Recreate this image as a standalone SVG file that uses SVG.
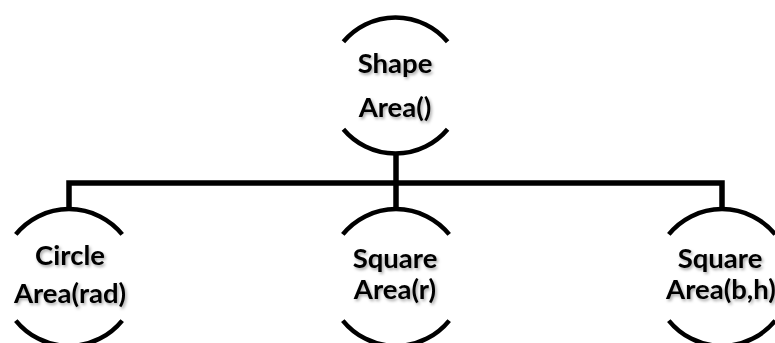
<svg xmlns="http://www.w3.org/2000/svg" width="775" height="343" viewBox="0 0 775 343">
<defs>
<filter id="sh" x="-20%" y="-30%" width="140%" height="170%">
<feDropShadow dx="1.5" dy="2" stdDeviation="1.5" flood-color="#000" flood-opacity="0.35"/>
</filter>
</defs>
<style>
.arc{fill:none;stroke:#000;stroke-width:4.5;stroke-linecap:butt}
.con{fill:none;stroke:#000;stroke-width:5.5;stroke-linejoin:miter}
.t{font-family:Lato,"Open Sans","Liberation Sans",sans-serif;font-weight:bold;font-size:27.5px;fill:#000;text-anchor:middle;filter:url(#sh)}
</style>
<rect width="775" height="343" fill="#fff"/>
<g id="connectors">
<path class="con" d="M69,209 V183 H722 V209"/>
<path class="con" d="M396,153 V209"/>
</g>
<g id="shape">
<path class="arc" d="M343.4,41.8 A68,68 0 0 1 447.6,41.8"/>
<path class="arc" d="M343.4,129.2 A68,68 0 0 0 447.6,129.2"/>
<text class="t" x="395" y="73">Shape</text>
<text class="t" x="395" y="117">Area()</text>
</g>
<g id="circle">
<path class="arc" d="M15.8,234.4 A68.5,68.5 0 0 1 122.2,234.4"/>
<path class="arc" d="M15.8,320.6 A68.5,68.5 0 0 0 122.2,320.6"/>
<text class="t" x="70" y="265">Circle</text>
<text class="t" x="70" y="303">Area(rad)</text>
</g>
<g id="square-r">
<path class="arc" d="M342.8,234.4 A68.5,68.5 0 0 1 449.2,234.4"/>
<path class="arc" d="M342.8,320.6 A68.5,68.5 0 0 0 449.2,320.6"/>
<text class="t" x="395" y="268">Square</text>
<text class="t" x="395" y="299">Area(r)</text>
</g>
<g id="square-bh">
<path class="arc" d="M668.8,234.4 A68.5,68.5 0 0 1 775.2,234.4"/>
<path class="arc" d="M668.8,320.6 A68.5,68.5 0 0 0 775.2,320.6"/>
<text class="t" x="720" y="268">Square</text>
<text class="t" x="721" y="299">Area(b,h)</text>
</g>
</svg>
